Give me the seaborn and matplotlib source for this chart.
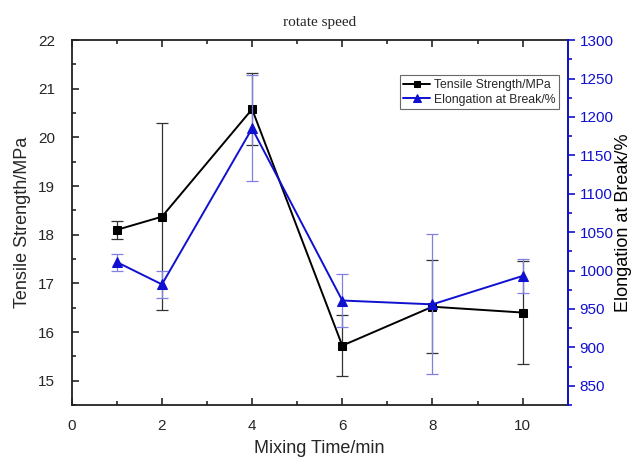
import matplotlib
matplotlib.use("Agg")
import matplotlib.pyplot as plt
import seaborn as sns
import pandas as pd
from matplotlib.ticker import MultipleLocator

mixing_time = [1, 2, 4, 6, 8, 10]
tensile = [18.10, 18.37, 20.58, 15.72, 16.52, 16.40]
tensile_err = [0.18, 1.92, 0.74, 0.63, 0.95, 1.05]
elongation = [1011, 982, 1185, 961, 956, 993]
elongation_err = [11, 17.5, 69, 34.5, 91, 22.6]

sns.set_theme(style="ticks")
plt.rcParams['font.family'] = ['Liberation Sans', 'DejaVu Sans']

df = pd.DataFrame({"time": mixing_time, "tensile": tensile, "elong": elongation})

fig = plt.figure(figsize=(6.35, 4.61), dpi=100)
ax = fig.add_axes([0.113, 0.1215, 0.781, 0.7915])
ax2 = ax.twinx()

blue = "#1010d0"

ax.errorbar(mixing_time, tensile, yerr=tensile_err, fmt="none", ecolor="#333333",
            elinewidth=0.9, capsize=4, capthick=0.9, zorder=2)
sns.lineplot(data=df, x="time", y="tensile", ax=ax, color="black", marker="s",
             markersize=6, markeredgecolor="black", linewidth=1.4, zorder=3,
             label="Tensile Strength/MPa", legend=False)

ax2.errorbar(mixing_time, elongation, yerr=elongation_err, fmt="none", ecolor="#8080e0",
             elinewidth=0.9, capsize=4, capthick=0.9, zorder=2)
sns.lineplot(data=df, x="time", y="elong", ax=ax2, color=blue, marker="^",
             markersize=7, markeredgecolor=blue, linewidth=1.4, zorder=3,
             label="Elongation at Break/%", legend=False)

ax.set_xlim(0, 11)
ax.set_ylim(14.5, 22)
ax2.set_ylim(825, 1300)

ax.xaxis.set_major_locator(MultipleLocator(2))
ax.xaxis.set_minor_locator(MultipleLocator(1))
ax.yaxis.set_major_locator(MultipleLocator(1))
ax.yaxis.set_minor_locator(MultipleLocator(0.5))
ax2.yaxis.set_major_locator(MultipleLocator(50))
ax2.yaxis.set_minor_locator(MultipleLocator(25))

ax.tick_params(axis="both", which="both", direction="in", top=True, labelsize=11, width=1.2)
ax.tick_params(axis="both", which="major", length=5)
ax.tick_params(axis="both", which="minor", length=3)
ax.tick_params(axis="y", which="both", right=False, pad=12)
ax.tick_params(axis="x", which="both", pad=10)
ax2.tick_params(axis="y", which="both", direction="out", colors=blue, labelsize=11, width=1.2)
ax2.tick_params(axis="y", which="major", length=5)
ax2.tick_params(axis="y", which="minor", length=3)

for s in ["left", "bottom", "top"]:
    ax.spines[s].set_linewidth(1.3)
    ax.spines[s].set_color("#222222")
ax2.spines["right"].set_color(blue)
ax2.spines["right"].set_linewidth(1.3)
ax2.spines["left"].set_visible(False)
ax2.spines["top"].set_visible(False)
ax2.spines["bottom"].set_visible(False)

ax.set_xlabel("Mixing Time/min", fontsize=13, labelpad=5)
ax.set_ylabel("Tensile Strength/MPa", fontsize=13, labelpad=5)
ax2.set_ylabel("Elongation at Break/%", fontsize=13, labelpad=1, color="black")
ax.set_title("rotate speed", fontsize=11, family="Liberation Serif", pad=10)

h1, l1 = ax.get_legend_handles_labels()
h2, l2 = ax2.get_legend_handles_labels()
leg = ax2.legend(h1 + h2, l1 + l2, loc="upper right", bbox_to_anchor=(0.995, 0.92),
                 fontsize=8.8, frameon=True, fancybox=False, edgecolor="#444444",
                 handlelength=2.2, borderpad=0.3, labelspacing=0.2, handletextpad=0.3,
                 markerscale=0.8)
leg.get_frame().set_linewidth(0.8)

fig.savefig("out.png", dpi=100)
